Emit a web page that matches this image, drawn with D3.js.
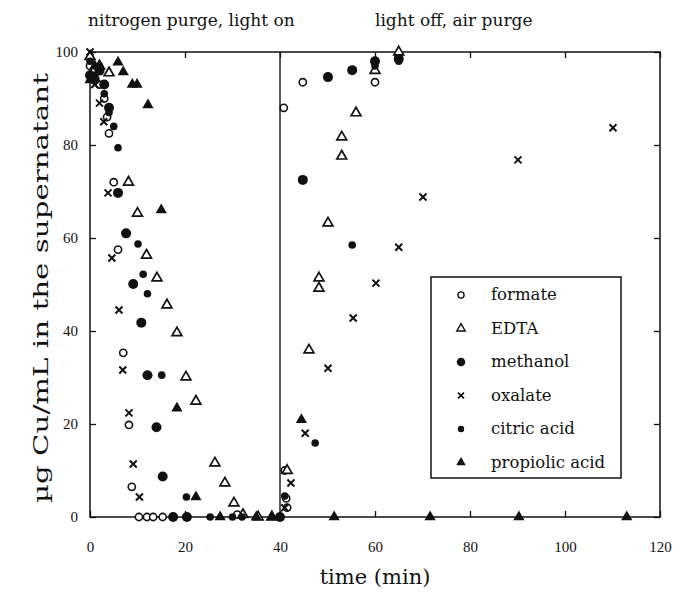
<!DOCTYPE html>
<html>
<head>
<meta charset="utf-8">
<script src="https://cdn.jsdelivr.net/npm/d3@7"></script>
<style>
  html, body { margin: 0; padding: 0; background: #fff; }
  svg { display: block; }
  text { font-family: "DejaVu Serif", "Liberation Serif", serif; fill: #111; }
</style>
</head>
<body>
<script>
// ---------- data ----------
const xTicks = [0, 20, 40, 60, 80, 100, 120];
const yTicks = [0, 20, 40, 60, 80, 100];
const seriesNames = ["formate", "EDTA", "methanol", "oxalate", "citric acid", "propiolic acid"];
const phaseLabels = ["nitrogen purge, light on", "light off, air purge"];
const switchTime = 40;

const formate = [[0,97],[1,96],[2,93],[3,90],[3.6,86],[4,82.5],[5,72],[5.9,57.5],[7,35.3],[8.2,19.8],[8.8,6.5],
  [10.3,0],[12,0],[13.3,0],[15.3,0],[31,0.5],[40.8,88],[41,10],[41.3,4],[41.5,2],[44.8,93.5],[60,93.5],[65,99]];
const edta = [[0,99],[2,97],[4,95.5],[8.1,72],[10,65.3],[11.9,56.3],[14.1,51.4],[16.2,45.6],[18.3,39.6],[20.2,30.1],
  [22.3,24.9],[26.3,11.6],[28.4,7.3],[30.3,3],[32.2,0.5],[35.4,0],[38.3,0],[41.5,10],[46.1,35.9],[48.2,49.2],[48.2,51.4],
  [50.1,63.2],[53,77.6],[53,81.7],[56,86.9],[60,96],[65,100]];
const methanol = [[0,95],[1,94],[2,96],[3,93],[4,88],[5.9,69.7],[7.6,61],[9.1,50.1],[10.8,41.8],[12.1,30.5],[14,19.3],
  [15.3,8.7],[17.5,0],[20.4,0],[40,0],[44.8,72.5],[50.1,94.6],[55.2,96.1],[60,98],[65,98.5]];
const oxalate = [[0,100],[1,93],[2,89],[2.9,85],[3.8,69.7],[4.6,55.7],[6.1,44.5],[6.9,31.6],[8.2,22.4],[9.1,11.4],[10.4,4.3],
  [41,2],[42.3,7.3],[45.3,18],[50.1,32],[55.4,42.8],[60.2,50.3],[65,58],[70.1,68.8],[90.1,76.8],[110.1,83.7]];
const citric = [[0,98],[1,95],[2,97],[3,91],[4,87],[5,84],[5.9,79.4],[10.1,58.7],[11.2,52.2],[12.1,48],[15.1,30.5],
  [20.3,4.3],[25.3,0],[30,0],[32,0],[41,4.5],[47.4,15.9],[55.2,58.5],[60,97],[65,98]];
const propiolic = [[0,94],[1,97],[5.9,97.8],[7,95.7],[8.9,93],[9.9,93],[12.2,88.6],[15,66],[18.3,23.4],[22.3,4.3],
  [27.4,0],[35,0],[38.3,0],[44.5,20.9],[51.4,0],[71.6,0],[90.3,0],[113,0]];

// ---------- layout ----------
const W = 684, H = 592;
const M = { left: 90, right: 24, top: 52, bottom: 75 };
const pw = W - M.left - M.right, ph = H - M.top - M.bottom;

const svg = d3.select("body").append("svg").attr("width", W).attr("height", H);
const g = svg.append("g").attr("transform", `translate(${M.left},${M.top})`);

const x = d3.scaleLinear().domain([0, 120]).range([0, pw]);
const y = d3.scaleLinear().domain([0, 100]).range([ph, 0]);

// marker shapes
const markers = {
  "formate":      { draw: sel => sel.append("circle").attr("r", 3.6).attr("fill", "#fff").attr("stroke", "#111").attr("stroke-width", 1.6) },
  "EDTA":         { draw: sel => sel.append("path").attr("d", d3.symbol(d3.symbolTriangle, 42)()).attr("fill", "#fff").attr("stroke", "#111").attr("stroke-width", 1.7) },
  "methanol":     { draw: sel => sel.append("circle").attr("r", 5).attr("fill", "#111") },
  "oxalate":      { draw: sel => sel.append("path").attr("d", "M-3.5,-3.5L3.5,3.5M-3.5,3.5L3.5,-3.5").attr("stroke", "#111").attr("stroke-width", 2).attr("fill", "none") },
  "citric acid":  { draw: sel => sel.append("circle").attr("r", 3.8).attr("fill", "#111") },
  "propiolic acid": { draw: sel => sel.append("path").attr("d", d3.symbol(d3.symbolTriangle, 55)()).attr("fill", "#111") }
};
const seriesData = [formate, edta, methanol, oxalate, citric, propiolic];

// frame
g.append("rect").attr("x", 0).attr("y", 0).attr("width", pw).attr("height", ph)
  .attr("fill", "none").attr("stroke", "#111").attr("stroke-width", 1.5);

// axes (inward ticks, mirrored)
const ax = [
  g.append("g").attr("transform", `translate(0,${ph})`).call(d3.axisBottom(x).tickValues(xTicks).tickSize(-6).tickPadding(24)),
  g.append("g").call(d3.axisTop(x).tickValues(xTicks).tickSize(-6).tickFormat("")),
  g.append("g").call(d3.axisLeft(y).tickValues(yTicks).tickSize(-6).tickPadding(12)),
  g.append("g").attr("transform", `translate(${pw},0)`).call(d3.axisRight(y).tickValues(yTicks).tickSize(-6).tickFormat(""))
];
ax.forEach(a => {
  a.select(".domain").remove();
  a.selectAll(".tick line").attr("stroke", "#111").attr("stroke-width", 1.3);
  a.selectAll(".tick text").style("font-family", "'Liberation Serif', serif").style("font-size", "15px").attr("fill", "#111");
});

// phase divider
g.append("line").attr("x1", x(switchTime)).attr("x2", x(switchTime)).attr("y1", 0).attr("y2", ph)
  .attr("stroke", "#222").attr("stroke-width", 1.5);

// points
seriesNames.forEach((name, i) => {
  const pts = g.append("g").selectAll("g").data(seriesData[i]).join("g")
    .attr("transform", d => `translate(${x(d[0])},${y(d[1])})`);
  markers[name].draw(pts);
});

// phase labels
svg.append("text").attr("x", 88).attr("y", 26).style("font-size", "17px").text(phaseLabels[0]);
svg.append("text").attr("x", 375).attr("y", 26).style("font-size", "17px").text(phaseLabels[1]);

// axis titles
svg.append("text").attr("x", 375).attr("y", 584).attr("text-anchor", "middle")
  .style("font-size", "21px").text("time (min)");
svg.append("text").attr("transform", `translate(48,288) rotate(-90)`).attr("text-anchor", "middle")
  .attr("textLength", 430).attr("lengthAdjust", "spacingAndGlyphs")
  .style("font-size", "21px").text("µg Cu/mL in the supernatant");

// legend
const lg = svg.append("g").attr("transform", "translate(431,277)");
lg.append("rect").attr("width", 190).attr("height", 201).attr("fill", "#fff").attr("stroke", "#111").attr("stroke-width", 1.5);
seriesNames.forEach((name, i) => {
  const row = lg.append("g").attr("transform", `translate(0,${18 + i * 33.5})`);
  const m = row.append("g").attr("transform", "translate(30,0) scale(0.85)");
  markers[name].draw(m);
  row.append("text").attr("x", 60).attr("y", 5).style("font-size", "16.5px").text(name);
});
</script>
</body>
</html>
